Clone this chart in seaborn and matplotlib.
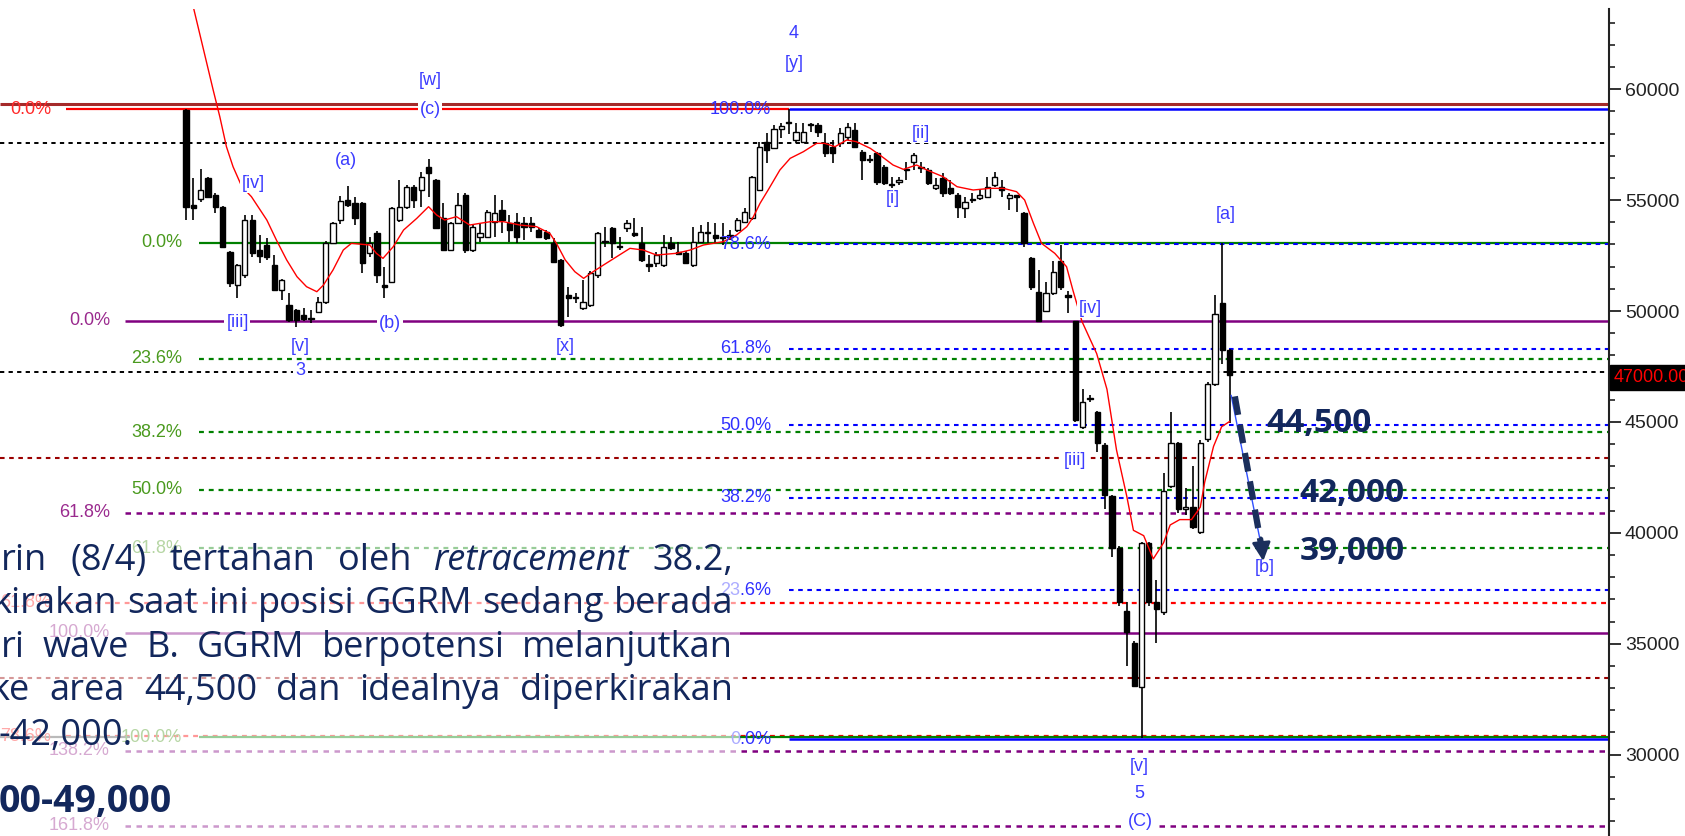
import matplotlib
matplotlib.use("Agg")
import matplotlib.pyplot as plt
import matplotlib.transforms as mtransforms
from matplotlib.patches import Rectangle
import seaborn as sns

sns.set_style("white")
plt.rcParams['font.family'] = ['Liberation Sans', 'DejaVu Sans']

W, H = 1685, 836

# daily candles (oldest first)
opens = [59050, 54800, 55030, 55980, 55230, 54700, 52670, 51170, 51620, 54100,
         52750, 52970, 52070, 50950, 50270, 50050, 49820, 49630, 49970, 50420,
         53080, 54100, 55000, 54850, 54850, 52600, 53530, 51170, 51320, 54100,
         54700, 55600, 55450, 56500, 55900, 54180, 52750, 53950, 55230, 52750,
         53350, 53350, 54000, 54550, 53950, 54030, 53950, 53950, 53650, 53580,
         53050, 52300, 50720, 50600, 50120, 50270, 51620, 53130, 53730, 52900,
         53730, 53500, 53050, 52100, 52150, 52070, 53050, 52600, 52600, 52070,
         53130, 53580, 53430, 53300, 53400, 53650, 54030, 54180, 55450, 57630,
         57330, 58190, 58460, 57710, 57640, 58390, 58390, 57560, 57410, 57560,
         57860, 58160, 57180, 56850, 57110, 56510, 55700, 55830, 56350, 56730,
         56430, 56360, 55530, 55980, 55530, 55230, 54630, 55000, 55080, 55150,
         55680, 55600, 55080, 55200, 54400, 52370, 50870, 50020, 50800, 52270,
         50660, 49530, 44780, 46070, 45430, 43980, 41640, 39310, 36490, 35040,
         33030, 39550, 36890, 36410, 42120, 44060, 41080, 41160, 40030, 44220,
         46710, 50340, 48240]
highs = [59100, 55980, 56390, 56050, 55300, 54750, 52700, 52100, 54330, 54330,
         53430, 53270, 52520, 51450, 50800, 50100, 50120, 50040, 50640, 53150,
         54030, 55180, 55630, 55150, 54900, 53350, 53600, 51998, 54700, 55905,
         55700, 55680, 56280, 56840, 55950, 54850, 54000, 55300, 55300, 53900,
         53950, 54550, 55230, 55000, 54330, 54400, 54250, 54250, 53730, 53650,
         53270, 52350, 51100, 50800, 51400, 51800, 53550, 53800, 53800, 53350,
         54100, 54180, 53800, 52520, 52670, 53430, 53350, 53130, 52700, 53800,
         53880, 54030, 53950, 53950, 53650, 54180, 54630, 56100, 57630, 58010,
         58400, 58460, 59100, 58460, 58460, 58460, 58460, 58010, 57710, 58240,
         58460, 58460, 57260, 57030, 57180, 56580, 56060, 56060, 56730, 57110,
         56730, 56430, 56000, 56210, 55900, 55300, 55150, 55300, 55450, 56060,
         56280, 55900, 55300, 55230, 54450, 52450, 51860, 51300, 52260, 52990,
         50900, 49550, 46470, 46230, 45500, 44050, 41700, 39400, 36890, 35100,
         39600, 39600, 37860, 42690, 45430, 44100, 42040, 43010, 44200, 46800,
         50740, 53070, 48300]
lows = [54100, 54100, 54900, 55100, 54400, 52850, 51100, 50570, 51500, 52450,
        52150, 52300, 50900, 50500, 49520, 49260, 49550, 49440, 49900, 50300,
        53000, 53900, 54700, 53880, 51730, 52450, 51250, 50570, 51250, 54000,
        54600, 54630, 54700, 55150, 53700, 52700, 52700, 53900, 52600, 52650,
        53130, 53300, 53350, 53500, 53130, 53050, 53200, 53580, 53280, 53200,
        52150, 49300, 49750, 50350, 50050, 50200, 51500, 52900, 52370, 52750,
        53580, 53350, 52220, 51770, 52000, 52000, 52750, 52520, 52100, 52000,
        53050, 53050, 53050, 52970, 53200, 53580, 53950, 54100, 55400, 56660,
        57300, 57800, 58000, 57560, 57560, 58090, 57860, 56960, 56660, 57410,
        57710, 57330, 55900, 56660, 55680, 55680, 55150, 55680, 55900, 56350,
        56210, 55680, 55450, 55150, 55230, 54180, 54180, 54850, 55000, 55080,
        55600, 55150, 54550, 54480, 52900, 50950, 49500, 49950, 50700, 50950,
        49930, 45000, 44700, 45900, 43650, 41080, 38900, 36700, 33990, 33050,
        30770, 36700, 35040, 36300, 42000, 40900, 40800, 40150, 39950, 44100,
        46600, 47600, 44950]
closes = [54700, 54650, 55450, 55150, 54700, 52900, 51250, 52070, 54100, 52600,
          52500, 52450, 50950, 51400, 49600, 49600, 49620, 49620, 50420, 53080,
          53950, 54960, 54800, 54180, 52150, 53050, 51620, 51100, 54630, 54700,
          55600, 55000, 56050, 56240, 53730, 52750, 53950, 54780, 52750, 53800,
          53500, 54480, 54400, 54100, 53650, 53350, 53800, 53800, 53350, 53280,
          52220, 49370, 50570, 50570, 50420, 51730, 53500, 53100, 53050, 52870,
          53950, 53430, 52300, 52050, 52520, 52900, 52830, 52580, 52150, 53130,
          53580, 53500, 53280, 53280, 53350, 54100, 54480, 56060, 57410, 57260,
          58200, 58340, 58500, 58090, 58090, 58400, 58090, 57110, 57110, 58010,
          58310, 57410, 56810, 56800, 55830, 55760, 55680, 55860, 56390, 57030,
          56460, 55760, 55680, 55300, 55300, 54700, 54930, 55040, 55230, 55600,
          56060, 55450, 55230, 55150, 53050, 51100, 49550, 50800, 51780, 51060,
          50640, 45100, 45910, 46040, 44060, 41720, 39310, 36890, 35520, 33110,
          39550, 36890, 36570, 41880, 44060, 41080, 41150, 40270, 44060, 46710,
          49850, 48240, 47110]

# red moving average, traced point by point (bar index, price)
ma_x = [1.0, 3.7, 4.6, 5.5, 6.4, 7.6, 8.9, 11.0, 12.3, 13.7, 15.1, 16.4, 17.8, 18.7,
        20.0, 21.4, 22.5, 25.0, 25.9, 26.8, 28.2, 29.6, 31.4, 33.0, 34.1, 35.2, 36.8,
        38.6, 41.4, 43.2, 45.4, 47.7, 49.5, 50.4, 51.6, 52.9, 54.1, 55.4, 56.8, 58.6,
        60.4, 62.2, 64.0, 66.7, 68.6, 70.4, 73.1, 74.9, 76.3, 77.2, 78.1, 79.2, 80.8,
        82.2, 84.0, 85.8, 86.9, 88.3, 89.9, 91.2, 93.1, 94.4, 96.2, 97.6, 99.4, 100.8,
        103.0, 104.9, 107.1, 109.4, 111.2, 113.0, 114.1, 115.3, 116.4, 118.2, 119.8,
        120.7, 121.9, 123.9, 125.3, 126.6, 128.0, 128.9, 130.3, 131.6, 133.0, 133.9,
        135.2, 136.8, 138.0, 138.6, 139.8, 140.9, 142.0]
ma_y = [63700, 59960, 58760, 57410, 56507, 55605, 55155, 54100, 53200, 52300, 51547,
        51096, 50870, 51170, 51848, 52750, 53050, 52975, 52600, 52374, 52900, 53651,
        54178, 54703, 54328, 54102, 54253, 53877, 54027, 54027, 53877, 53802, 53500,
        53050, 52300, 51773, 51472, 51773, 52073, 52449, 52825, 52750, 52524, 52600,
        52750, 52975, 53125, 53426, 53802, 54253, 54854, 55455, 56357, 56883, 57183,
        57559, 57559, 57409, 57710, 57635, 57334, 57033, 56582, 56387, 56582, 56357,
        56056, 55605, 55455, 55530, 55530, 55380, 55004, 53952, 53050, 52600, 52000,
        50900, 49530, 48081, 46471, 43734, 41641, 40112, 39870, 38824, 39548, 40353,
        40595, 40595, 41158, 42285, 43895, 44781, 45022]

# fibonacci levels
red_vals = [59094, 36849, 30838]
red_pcts = ['0.0%', '61.8%', '78.6%']
green_vals = [53080, 47837, 44530, 41930, 39301, 30780]
green_pcts = ['0.0%', '23.6%', '38.2%', '50.0%', '61.8%', '100.0%']
blue_vals = [59094, 53020, 48287, 44860, 41583, 37421, 30700]
blue_pcts = ['100.0%', '78.6%', '61.8%', '50.0%', '38.2%', '23.6%', '0.0%']
purple_vals = [49562, 40907, 35496, 30163, 26790]
purple_pcts = ['0.0%', '61.8%', '100.0%', '138.2%', '161.8%']
darkred_vals = [59333, 43357, 33440]
black_vals = [57588, 47263]

# wave counts: (text, bar index, price)
waves = [('4', 82.7, 62500), ('[y]', 82.7, 61180), ('[w]', 33.2, 60370),
         ('(c)', 33.2, 59107), ('(a)', 21.8, 56763), ('[iv]', 9.1, 55771),
         ('[iii]', 7.0, 49480), ('[v]', 15.5, 48377), ('3', 15.5, 47295),
         ('(b)', 27.8, 49440), ('[x]', 51.6, 48422), ('[ii]', 100.0, 58025),
         ('[i]', 96.1, 55094), ('[iv]', 123.1, 50135), ('[iii]', 121.0, 43282),
         ('[a]', 141.5, 54373), ('[b]', 146.8, 38458), ('[v]', 129.7, 29441),
         ('5', 129.7, 28224), ('(C)', 129.9, 27006)]

targets = ['44,500', '42,000', '39,000']
target_px = [(1319, 424), (1352, 493), (1352, 551)]

para = [
    (['rin', '(8/4)', 'tertahan', 'oleh', 'retracement', '38.2,'], 1, 570),
    (['kirakan', 'saat', 'ini', 'posisi', 'GGRM', 'sedang', 'berada'], -7, 613),
    (['ri', 'wave', 'B.', 'GGRM', 'berpotensi', 'melanjutkan'], 1, 657),
    (['ke', 'area', '44,500', 'dan', 'idealnya', 'diperkirakan'], -9, 700),
]
last_line = '-42,000.'
bold_line = '00-49,000'

navy = '#12275c'
wave_blue = '#3c3cff'
body_font = ['Open Sans', 'DejaVu Sans']

# ---------------------------------------------------------------
fig = plt.figure(figsize=(W / 100, H / 100), dpi=100)
ax = fig.add_axes([0, 0, 1609 / W, (H - 9) / H])

x0_px, step = 186, 7.35
def px2i(px):
    return (px - x0_px) / step

xmin, xmax = px2i(0), px2i(1609)
ax.set_xlim(xmin, xmax)
ax.set_ylim(26330, 63616)

dash = (0, (2.2, 2.2))

def hline(v, x_from, color, solid, lw, z=1.5, x_to=None):
    ax.hlines(v, x_from, xmax if x_to is None else x_to, colors=color,
              linestyles='solid' if solid else dash, lw=lw, zorder=z)

def fib_label(v, txt, right_px, color):
    ax.text(px2i(right_px), v, txt, ha='right', va='center', fontsize=13,
            color=color, zorder=6)

for v in black_vals:
    hline(v, xmin, 'black', False, 1.4)
for k, v in enumerate(darkred_vals):
    hline(v, xmin, '#a52a2a' if k == 0 else '#9b0000', k == 0, 2.2 if k == 0 else 1.5)
for v, p in zip(red_vals, red_pcts):
    hline(v, px2i(66), '#ff0000', p == '0.0%', 1.6, x_to=82 if p == '0.0%' else None)
    fib_label(v, p, 51, '#ff2a2a')
for v, p in zip(purple_vals, purple_pcts):
    hline(v, px2i(125), '#800080', p in ('0.0%', '100.0%'), 1.8)
    fib_label(v, p, 110, '#9a2a8e')
for v, p in zip(green_vals, green_pcts):
    hline(v, px2i(199), '#008000', p in ('0.0%', '100.0%'), 1.6)
    fib_label(v, p, 182, '#4a9a1e')
hline(green_vals[-1], xmin, '#555555', True, 1.6, x_to=px2i(130))
for v, p in zip(blue_vals, blue_pcts):
    hline(v, 82, '#0000ff', p in ('0.0%', '100.0%'), 1.8 if p in ('0.0%', '100.0%') else 1.5, z=1.6)
    fib_label(v, p, 771, '#3030ff')

# candles
idx = list(range(len(opens)))
ax.vlines(idx, lows, highs, color='black', lw=1.2, zorder=3)
body_bottom = [min(o, c) for o, c in zip(opens, closes)]
body_height = [max(abs(c - o), 60) for o, c in zip(opens, closes)]
body_color = ['black' if c < o else 'white' for o, c in zip(opens, closes)]
ax.bar(idx, body_height, bottom=body_bottom, width=0.72, color=body_color,
       edgecolor='black', linewidth=1.0, zorder=4)

sns.lineplot(x=ma_x, y=ma_y, ax=ax, color='red', lw=1.0, sort=False, zorder=5)

for txt, xi, v in waves:
    ax.text(xi, v, txt, ha='center', va='center', fontsize=13, color=wave_blue,
            zorder=7, bbox=dict(boxstyle='square,pad=0.1', fc='white', ec='none'))

# projection to [b]
ax.plot([142.2, 146.6], [46200, 38900], color='#3050ff', lw=1, zorder=6)
ax.plot([142.7, 146.2], [46150, 39600], color='#1b2f5c', lw=4.5,
        dashes=(3, 1.6), zorder=8, solid_capstyle='butt')
ax.annotate('', xy=(146.6, 38600), xytext=(146.2, 39900),
            arrowprops=dict(arrowstyle='-|>', color='#1b2f5c', lw=2,
                            mutation_scale=28), zorder=8)

# axis styling
for s in ['top', 'left', 'bottom']:
    ax.spines[s].set_visible(False)
ax.spines['right'].set_color('#222222')
ax.spines['right'].set_linewidth(1.5)
ax.set_xticks([])
ax.yaxis.tick_right()
ax.set_yticks(range(30000, 60001, 5000))
ax.set_yticks(range(27000, 63001, 1000), minor=True)
ax.set_yticklabels([str(t) for t in range(30000, 60001, 5000)])
ax.tick_params(axis='y', which='major', length=8.5, width=1.3, pad=3,
               labelsize=14, colors='#222222', direction='out')
ax.tick_params(axis='y', which='minor', length=4.5, width=1.2, colors='#222222',
               direction='out')
ax.set_facecolor('white')

trans = mtransforms.blended_transform_factory(ax.transAxes, ax.transData)
ax.text(1.003, 47000, '47000.00', transform=trans, color='red', fontsize=13,
        ha='left', va='center', clip_on=False, zorder=10,
        bbox=dict(boxstyle='square,pad=0.2', fc='black', ec='black'))

# translucent box behind the commentary
fig.patches.append(Rectangle((0, 0), 740 / W, 1 - 528 / H, transform=fig.transFigure,
                             facecolor='white', alpha=0.6, edgecolor='none', zorder=1))

def ftext(x, y, s, **kw):
    return fig.text(x / W, 1 - y / H, s, zorder=3, **kw)

# justified commentary lines
r = fig.canvas.get_renderer()
for (words, left, base) in para:
    objs = []
    for w in words:
        st = 'italic' if w == 'retracement' else 'normal'
        objs.append(ftext(0, base, w, fontsize=26, color=navy, fontstyle=st,
                          va='baseline', ha='left', family=body_font))
    widths = [t.get_window_extent(r).width for t in objs]
    gap = ((733 - left) - sum(widths)) / (len(words) - 1)
    x = left
    for t, wd in zip(objs, widths):
        t.set_x(x / W)
        x += wd + gap

ftext(-2, 745, last_line, fontsize=26, color=navy, va='baseline', ha='left',
      family=body_font)
ftext(-1, 812, bold_line, fontsize=27, color=navy, va='baseline', ha='left',
      fontweight='bold', family=body_font)

for s, (x, y) in zip(targets, target_px):
    ftext(x, y, s, fontsize=24, color=navy, va='center', ha='center',
          fontweight='bold', family=body_font)

fig.savefig('out.png', dpi=100)
